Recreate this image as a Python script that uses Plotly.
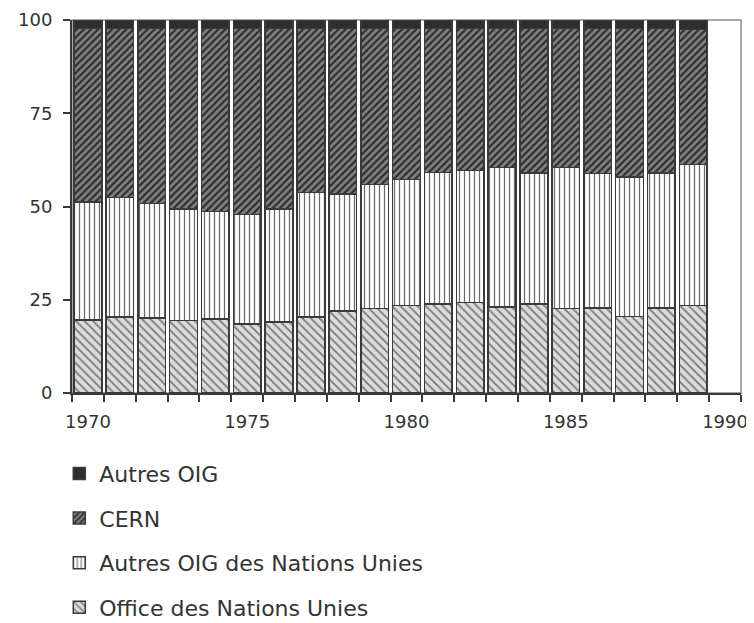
import plotly.graph_objects as go

years = list(range(1970, 1990))
office_nu = [19.6, 20.4, 20.1, 19.4, 19.8, 18.5, 19.0, 20.4, 22.0, 22.7,
             23.5, 23.9, 24.2, 23.1, 23.8, 22.6, 22.8, 20.5, 22.8, 23.5]
autres_oig_nu = [31.6, 32.0, 30.7, 29.9, 28.9, 29.3, 30.3, 33.3, 31.4, 33.2,
                 33.7, 35.2, 35.5, 37.4, 35.2, 37.9, 36.1, 37.4, 36.2, 37.7]
cern = [46.5, 45.3, 46.9, 48.4, 49.0, 49.9, 48.4, 44.0, 44.3, 41.8,
        40.5, 38.6, 38.0, 37.2, 38.7, 37.2, 38.8, 39.8, 38.7, 36.2]
autres_oig = [2.3, 2.3, 2.3, 2.3, 2.3, 2.3, 2.3, 2.3, 2.3, 2.3,
              2.3, 2.3, 2.3, 2.3, 2.3, 2.3, 2.3, 2.3, 2.3, 2.6]
x_ticks = [1970, 1975, 1980, 1985, 1990]
y_ticks = [0, 25, 50, 75, 100]

OUT = "#3a3a3a"
FONT = "DejaVu Sans"

fig = go.Figure()
series = [
    ("Office des Nations Unies", office_nu, dict(bgcolor="#dcdcdc", fgcolor="#7a7a7a", shape="\\", size=6, solidity=0.3)),
    ("Autres OIG des Nations Unies", autres_oig_nu, dict(bgcolor="#ffffff", fgcolor="#6a6a6a", shape="|", size=5, solidity=0.25)),
    ("CERN", cern, dict(bgcolor="#808080", fgcolor="#2c2c2c", shape="/", size=5, solidity=0.42)),
    ("Autres OIG", autres_oig, None),
]
for i, (name, vals, pat) in enumerate(series):
    marker = dict(line=dict(color=OUT, width=1.5))
    if pat is None:
        marker["color"] = "#2e2e2e"
    else:
        marker["color"] = pat["bgcolor"]
        marker["pattern"] = dict(shape=pat["shape"], fgcolor=pat["fgcolor"], bgcolor=pat["bgcolor"],
                                 size=pat["size"], solidity=pat["solidity"], fillmode="replace")
    fig.add_trace(go.Bar(x=years, y=vals, name=name, marker=marker, width=0.87,
                         legendgroup=f"g{i}", legendrank=len(series) - i))

# page body has an 8px margin: size the figure so it fills the 754x623 window
fig.update_layout(
    barmode="stack",
    width=746, height=615,
    margin=dict(l=64, r=13, t=12, b=230, autoexpand=False),
    paper_bgcolor="white", plot_bgcolor="white",
    font=dict(family=FONT, size=18, color="#333"),
    showlegend=True,
    legend=dict(x=-0.019, y=-0.16, xanchor="left", yanchor="top",
                traceorder="grouped", tracegroupgap=13,
                font=dict(family=FONT, size=22, color="#333"),
                bgcolor="rgba(0,0,0,0)"),
    shapes=[dict(type="rect", xref="paper", yref="paper", x0=0, x1=1, y0=0, y1=1,
                 line=dict(color="#8a8a8a", width=1.5), layer="below")],
)
fig.update_xaxes(
    range=[1969.5, 1990.5], tickmode="array", tickvals=x_ticks,
    ticks="outside", ticklen=7, tickcolor="rgba(0,0,0,0)", ticklabelstandoff=4,
    showline=True, linecolor=OUT, linewidth=2, showgrid=False, zeroline=False,
    minor=dict(tickmode="linear", tick0=1969.5, dtick=1, ticks="outside", ticklen=7,
               tickcolor=OUT, tickwidth=2, showgrid=False),
    tickfont=dict(family=FONT, size=18, color="#333"),
)
fig.update_yaxes(
    range=[0, 100], tickmode="array", tickvals=y_ticks,
    ticks="outside", ticklen=7, tickcolor=OUT, tickwidth=2, ticklabelstandoff=7,
    showline=True, linecolor=OUT, linewidth=2, showgrid=False, zeroline=False,
    tickfont=dict(family=FONT, size=18, color="#333"),
)

fig.write_html("out.html")
